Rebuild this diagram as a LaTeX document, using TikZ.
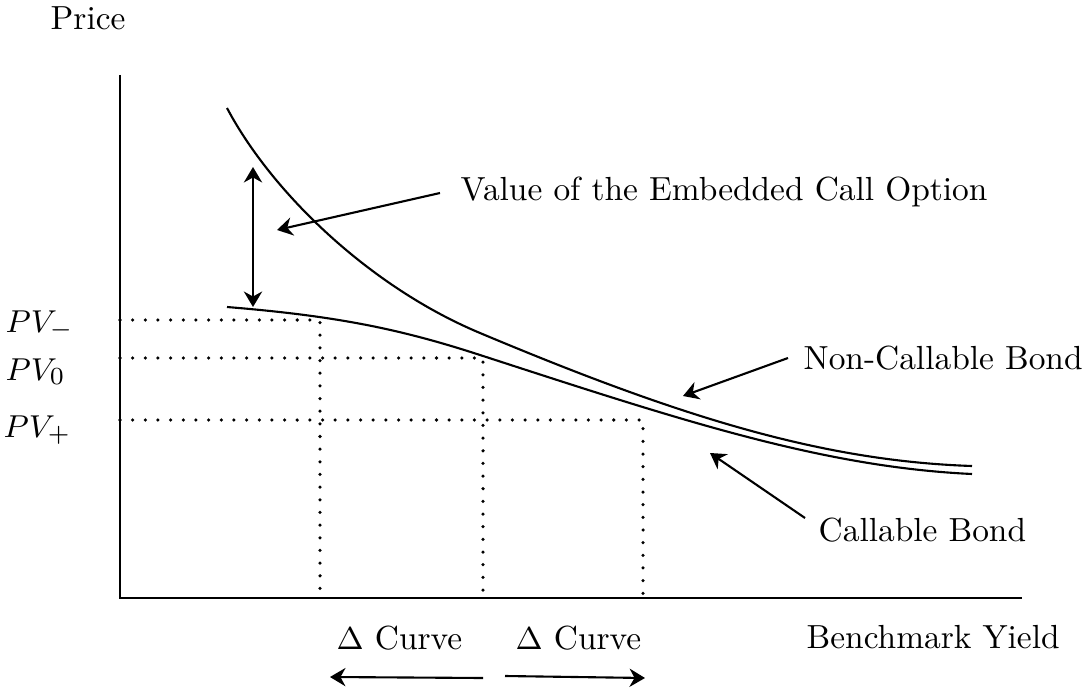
\documentclass[tikz,border=0pt]{standalone}
\usepackage{amsmath}
\usepackage{tikz}
\usetikzlibrary{arrows.meta}

\begin{document}
\begin{tikzpicture}[
            x=0.01cm, y=-0.01cm,
            >={Stealth[length=4.4pt,width=5.2pt]},
                lbl/.style = {inner sep=0pt, anchor=west,
                            font=\fontsize{9.5}{11}\selectfont},
                pvlbl/.style = {lbl, anchor=base west},
                guide/.style = {line width=1pt, line cap=round,
                            dash pattern=on 0pt off 3.6pt},
                axis/.style = {line width=0.7pt},
                bond/.style = {line width=0.6pt},
                pointer/.style = {->, line width=0.6pt}]
            \useasboundingbox (0,0) rectangle (1088,688);
            \coordinate (o) at (120,598);
            \coordinate (ytop) at (120,75);
            \coordinate (xend) at (1022,598);
            \draw[axis] (ytop) -- (o) -- (xend);
            \node (price) [lbl] at (50,18) {Price};
            \node (yield) [lbl] at (806,637) {Benchmark Yield};
            \node (pvm) [pvlbl] at (5,332) {$PV_-$};
            \node (pvz) [pvlbl] at (5,380) {$PV_0$};
            \node (pvp) [pvlbl] at (3,437) {$PV_+$};
            \coordinate (pm) at (320,320);
            \coordinate (pz) at (483,358);
            \coordinate (pp) at (643,420);
            \draw[guide] (pm -| o) -- (pm) -- (pm |- o);
            \draw[guide] (pz -| o) -- (pz) -- (pz |- o);
            \draw[guide] (pp -| o) -- (pp) -- (pp |- o);
            \draw[bond] (227,108) .. controls (272,193) and (370,287) .. (480,333)
                .. controls (680,417) and (822,461) .. (972,466);
            \draw[bond] (227,307) .. controls (337,316) and (400,329) .. (480,355)
                .. controls (680,420) and (822,467) .. (972,474);
            \coordinate (gtop) at (253,167);
            \coordinate (gbot) at (253,307);
            \draw[pointer, <->] (gtop) -- (gbot);
            \node (opt) [lbl] at (460,192) {Value of the Embedded Call Option};
            \coordinate (optstart) at (440,193);
            \coordinate (optend) at (277,230);
            \draw[pointer] (optstart) -- (optend);
            \node (ncb) [lbl] at (803,358) {Non-Callable Bond};
            \coordinate (ncbstart) at (788,358);
            \coordinate (ncbend) at (683,396);
            \draw[pointer] (ncbstart) -- (ncbend);
            \node (cb) [lbl] at (818,530) {Callable Bond};
            \coordinate (cbstart) at (805,518);
            \coordinate (cbend) at (710,453);
            \draw[pointer] (cbstart) -- (cbend);
            \node (dl) [lbl] at (336,638) {$\Delta$ Curve};
            \node (dr) [lbl] at (515,638) {$\Delta$ Curve};
            \coordinate (dlstart) at (483,678);
            \coordinate (dlend) at (330,677);
            \coordinate (drstart) at (505,676);
            \coordinate (drend) at (645,678);
            \draw[pointer] (dlstart) -- (dlend);
            \draw[pointer] (drstart) -- (drend);
        \end{tikzpicture}
\end{document}
